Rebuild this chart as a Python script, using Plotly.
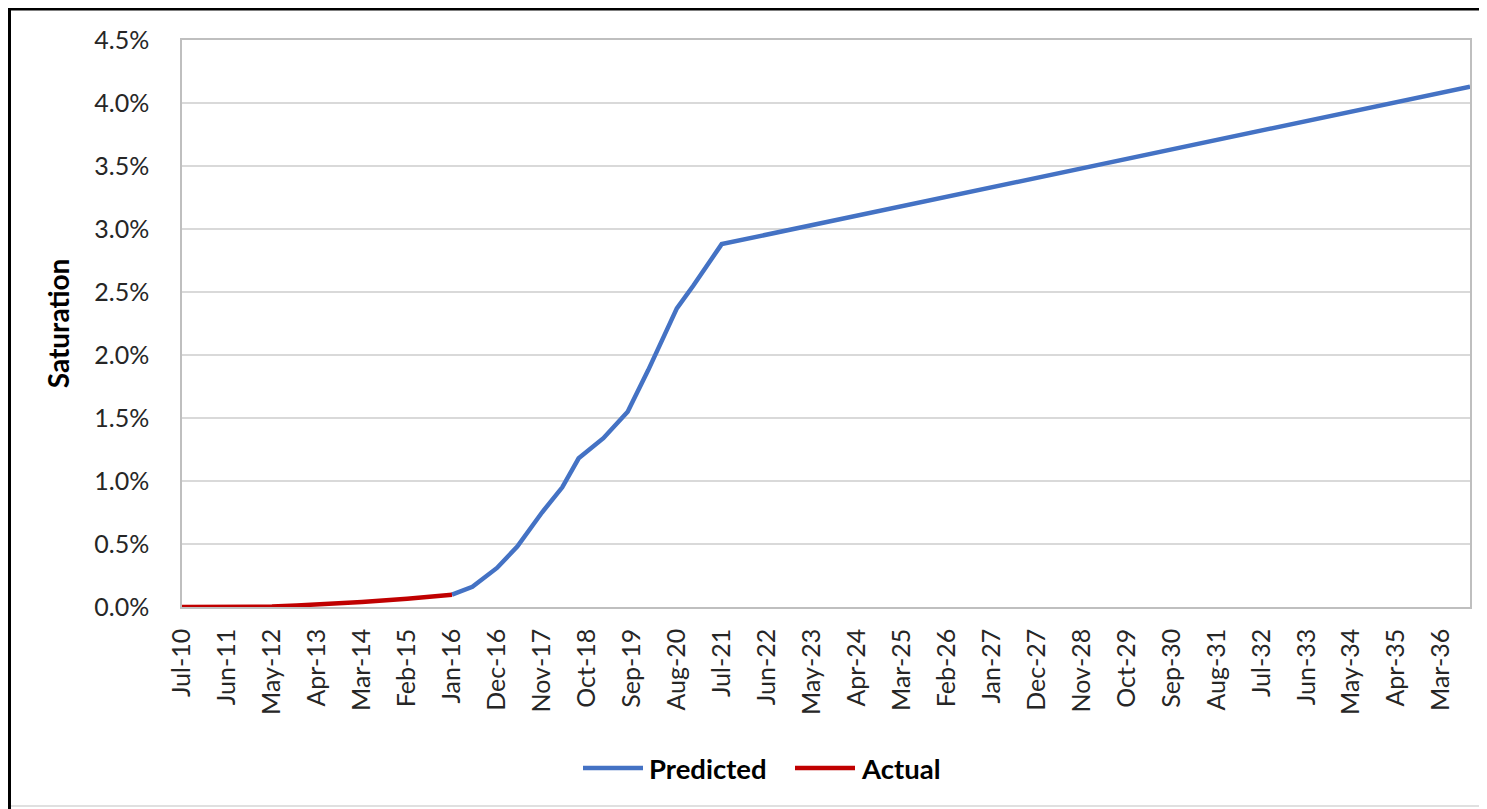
import plotly.graph_objects as go
from datetime import datetime

# ---- data ----
actual_months = ["2010-07", "2011-06", "2012-05", "2012-11", "2013-04", "2014-03", "2015-02", "2016-01"]
actual_values = [0.00, 0.00, 0.003, 0.012, 0.018, 0.040, 0.066, 0.098]

predicted_months = ["2016-01", "2016-06", "2016-12", "2017-05", "2017-11", "2018-04", "2018-08",
                    "2019-02", "2019-08", "2019-10", "2020-01", "2020-08", "2020-12", "2021-07", "2036-10"]
predicted_values = [0.098, 0.16, 0.31, 0.48, 0.75, 0.95, 1.18,
                    1.34, 1.55, 1.68, 1.88, 2.37, 2.55, 2.88, 4.13]

tick_labels = ["Jul-10", "Jun-11", "May-12", "Apr-13", "Mar-14", "Feb-15", "Jan-16", "Dec-16",
               "Nov-17", "Oct-18", "Sep-19", "Aug-20", "Jul-21", "Jun-22", "May-23", "Apr-24",
               "Mar-25", "Feb-26", "Jan-27", "Dec-27", "Nov-28", "Oct-29", "Sep-30", "Aug-31",
               "Jul-32", "Jun-33", "May-34", "Apr-35", "Mar-36"]
x_start, x_end = "2010-07-01", "2036-10-01"

series_names = ["Predicted", "Actual"]

tick_vals = [datetime.strptime(t, "%b-%y").strftime("%Y-%m-%d") for t in tick_labels]

FONT = "Lato"
BLUE = "#4472C4"
RED = "#C00000"
LW = 4.5

fig = go.Figure()
fig.add_trace(go.Scatter(x=[m + "-01" for m in predicted_months], y=predicted_values,
                         mode="lines", name=series_names[0], showlegend=False,
                         line=dict(color=BLUE, width=LW)))
fig.add_trace(go.Scatter(x=[m + "-01" for m in actual_months], y=actual_values,
                         mode="lines", name=series_names[1], showlegend=False,
                         line=dict(color=RED, width=LW)))

# page is offset by the browser's 8px body margin; keep the figure inside the viewport
OFF = 8
PW, PH = 1487, 809
W, H = PW - OFF, PH - OFF
L, R, T, B = 182 - OFF, 1470 - OFF, 40 - OFF, 607 - OFF
pw, ph = R - L, B - T

def px(x):
    return (x - OFF - L) / pw

def py(y):
    return (B - (y - OFF)) / ph

shapes = [
    dict(type="line", xref="paper", yref="paper", x0=px(9.5), x1=px(9.5), y0=py(PH), y1=py(OFF),
         line=dict(color="black", width=3)),
    dict(type="line", xref="paper", yref="paper", x0=px(8), x1=px(PW), y0=py(OFF + 1), y1=py(OFF + 1),
         line=dict(color="black", width=3)),
    dict(type="line", xref="paper", yref="paper", x0=px(11), x1=px(PW), y0=py(806), y1=py(806),
         line=dict(color="#E0E0E0", width=2)),
]

# legend drawn manually (long Excel-style line samples)
legend_y = 768
legend_items = [(series_names[0], BLUE, 583, 643), (series_names[1], RED, 795, 855)]
annotations = []
for name, col, x0, x1 in legend_items:
    shapes.append(dict(type="line", xref="paper", yref="paper", x0=px(x0), x1=px(x1),
                       y0=py(legend_y), y1=py(legend_y), line=dict(color=col, width=LW)))
    annotations.append(dict(xref="paper", yref="paper", x=px(x1 + 4), y=py(legend_y),
                            xanchor="left", yanchor="middle", showarrow=False,
                            text="<b>" + name + "</b>",
                            font=dict(family=FONT, size=27.5, color="black")))

fig.update_layout(
    width=W, height=H,
    margin=dict(l=L, r=W - R, t=T, b=H - B),
    paper_bgcolor="white", plot_bgcolor="white",
    font=dict(family=FONT, size=24, color="#404040"),
    showlegend=False,
    shapes=shapes,
    annotations=annotations,
    xaxis=dict(type="date", range=[x_start, x_end], tickmode="array",
               tickvals=tick_vals, ticktext=tick_labels, tickangle=-90,
               showgrid=False, showline=True, linecolor="#BFBFBF", linewidth=1.5,
               mirror=True, ticks="", zeroline=False, ticklabelstandoff=10,
               tickfont=dict(family=FONT, size=25, color="#262626")),
    yaxis=dict(range=[0, 4.5], dtick=0.5, tickformat=".1f", ticksuffix="%",
               showgrid=True, gridcolor="#D9D9D9", gridwidth=1.5,
               showline=True, linecolor="#BFBFBF", linewidth=1.5, mirror=True,
               ticks="", zeroline=False, ticklabelstandoff=26,
               tickfont=dict(family=FONT, size=25, color="#262626"),
               title=dict(text="<b>Saturation</b>", standoff=16,
                          font=dict(family=FONT, size=28, color="black"))),
)

fig.write_html("out.html", config={"displayModeBar": False})
